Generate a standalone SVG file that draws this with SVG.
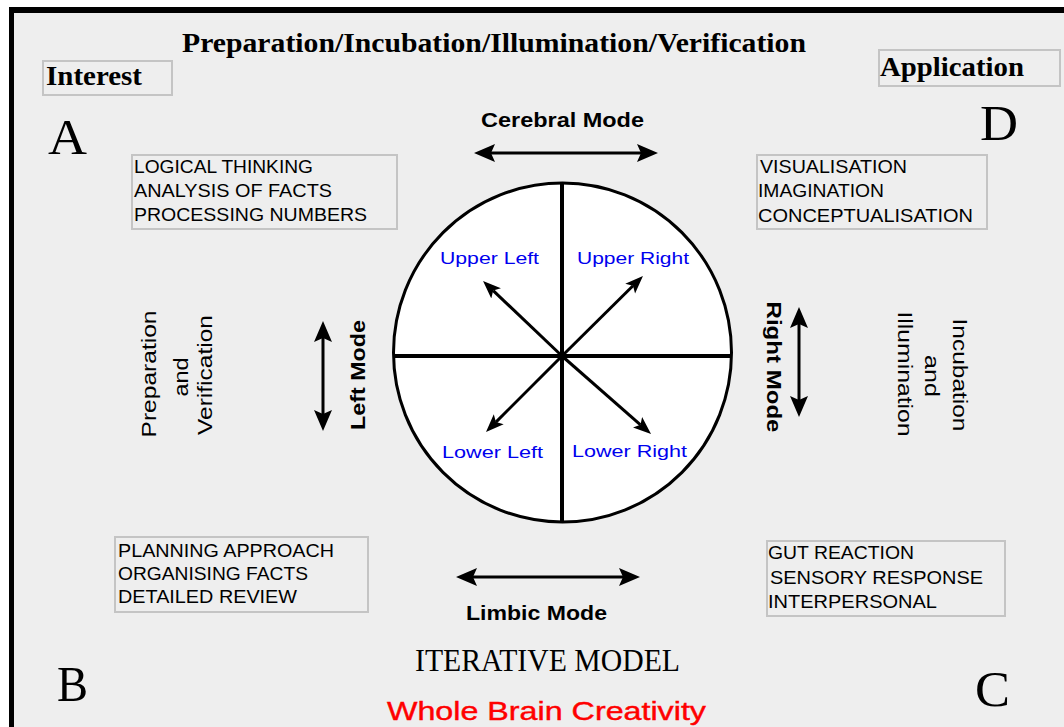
<svg xmlns="http://www.w3.org/2000/svg" width="1064" height="727" viewBox="0 0 1064 727">
<style>
.serifb{font-family:"Liberation Serif","Times New Roman",serif;font-weight:bold;fill:#000}
.serif{font-family:"Liberation Serif","Times New Roman",serif;fill:#000}
.box{fill:none;stroke:#c4c4c4;stroke-width:2}
.bt{font-family:"Liberation Sans",Arial,sans-serif;font-size:19px;fill:#000}
.q{font-family:"Liberation Sans",Arial,sans-serif;font-size:17px;fill:#0000ee}
.mode{font-family:"Liberation Sans",Arial,sans-serif;font-size:21px;font-weight:bold;fill:#000}
.rt{font-family:"Liberation Sans",Arial,sans-serif;font-size:21px;fill:#000}
.arr{stroke:#000;stroke-width:3;fill:none}
</style>
<defs>
<marker id="ah" markerUnits="userSpaceOnUse" markerWidth="24" markerHeight="20" refX="4" refY="10" orient="auto-start-reverse"><path d="M0,1 L21,10 L0,19 L4,10 Z" fill="#000"/></marker>
<marker id="ahs" markerUnits="userSpaceOnUse" markerWidth="20" markerHeight="16" refX="4" refY="8" orient="auto-start-reverse"><path d="M0,1 L18,8 L0,15 L4,8 Z" fill="#000"/></marker>
</defs>
<rect x="0" y="0" width="1064" height="727" fill="#ffffff"/>
<rect x="9" y="7" width="1055" height="720" fill="#eeeeee"/>
<rect x="9" y="7" width="1055" height="6" fill="#000"/>
<rect x="9" y="7" width="5" height="720" fill="#000"/>

<g id="title"><text class="serifb" x="182" y="52" font-size="27" textLength="624" lengthAdjust="spacingAndGlyphs">Preparation/Incubation/Illumination/Verification</text></g>

<g id="interest"><rect class="box" x="43" y="61" width="129" height="34"/><text class="serifb" x="46" y="85" font-size="28" textLength="96" lengthAdjust="spacingAndGlyphs">Interest</text></g>
<g id="application"><rect class="box" x="879" y="50" width="181" height="36"/><text class="serifb" x="880" y="76" font-size="28" textLength="144" lengthAdjust="spacingAndGlyphs">Application</text></g>

<g id="letters">
<text class="serif" x="48" y="154" font-size="50" textLength="39" lengthAdjust="spacingAndGlyphs">A</text>
<text class="serif" x="980" y="140" font-size="50" textLength="38" lengthAdjust="spacingAndGlyphs">D</text>
<text class="serif" x="57" y="701" font-size="50" textLength="31" lengthAdjust="spacingAndGlyphs">B</text>
<text class="serif" x="975" y="706" font-size="50" textLength="35" lengthAdjust="spacingAndGlyphs">C</text>
</g>

<g id="boxA"><rect class="box" x="132" y="155" width="265" height="74"/>
<text class="bt" x="134" y="173" textLength="179" lengthAdjust="spacingAndGlyphs">LOGICAL THINKING</text>
<text class="bt" x="134" y="197" textLength="198" lengthAdjust="spacingAndGlyphs">ANALYSIS OF FACTS</text>
<text class="bt" x="134" y="221" textLength="233" lengthAdjust="spacingAndGlyphs">PROCESSING NUMBERS</text></g>

<g id="boxD"><rect class="box" x="757" y="155" width="230" height="74"/>
<text class="bt" x="760" y="173" textLength="147" lengthAdjust="spacingAndGlyphs">VISUALISATION</text>
<text class="bt" x="758" y="197" textLength="126" lengthAdjust="spacingAndGlyphs">IMAGINATION</text>
<text class="bt" x="758" y="222" textLength="215" lengthAdjust="spacingAndGlyphs">CONCEPTUALISATION</text></g>

<g id="boxB"><rect class="box" x="115" y="537" width="253" height="75"/>
<text class="bt" x="118" y="557" textLength="216" lengthAdjust="spacingAndGlyphs">PLANNING APPROACH</text>
<text class="bt" x="118" y="580" textLength="190" lengthAdjust="spacingAndGlyphs">ORGANISING FACTS</text>
<text class="bt" x="118" y="603" textLength="179" lengthAdjust="spacingAndGlyphs">DETAILED REVIEW</text></g>

<g id="boxC"><rect class="box" x="767" y="541" width="238" height="75"/>
<text class="bt" x="768" y="559" textLength="146" lengthAdjust="spacingAndGlyphs">GUT REACTION</text>
<text class="bt" x="770" y="584" textLength="213" lengthAdjust="spacingAndGlyphs">SENSORY RESPONSE</text>
<text class="bt" x="768" y="608" textLength="169" lengthAdjust="spacingAndGlyphs">INTERPERSONAL</text></g>

<g id="brain">
<ellipse cx="562.5" cy="352.5" rx="169" ry="169.5" fill="#ffffff" stroke="#000" stroke-width="3"/>
<line x1="562" y1="183" x2="562" y2="522" stroke="#000" stroke-width="4"/>
<line x1="393" y1="356" x2="732" y2="356" stroke="#000" stroke-width="4"/>
<text class="q" x="440" y="264" textLength="99" lengthAdjust="spacingAndGlyphs">Upper Left</text>
<text class="q" x="577" y="264" textLength="112" lengthAdjust="spacingAndGlyphs">Upper Right</text>
<text class="q" x="442" y="458" textLength="101" lengthAdjust="spacingAndGlyphs">Lower Left</text>
<text class="q" x="572" y="457" textLength="115" lengthAdjust="spacingAndGlyphs">Lower Right</text>
</g>

<g id="modes">
<text class="mode" x="481" y="127" textLength="163" lengthAdjust="spacingAndGlyphs">Cerebral Mode</text>
<text class="mode" x="466" y="620" textLength="141" lengthAdjust="spacingAndGlyphs">Limbic Mode</text>
<text class="mode" transform="translate(365,375) rotate(-90)" text-anchor="middle" textLength="110" lengthAdjust="spacingAndGlyphs">Left Mode</text>
<text class="mode" transform="translate(767,367) rotate(90)" text-anchor="middle" textLength="131" lengthAdjust="spacingAndGlyphs">Right  Mode</text>
</g>

<g id="phases-left">
<text class="rt" transform="translate(156,374) rotate(-90)" text-anchor="middle" textLength="127" lengthAdjust="spacingAndGlyphs">Preparation</text>
<text class="rt" transform="translate(188,377) rotate(-90)" text-anchor="middle" textLength="39" lengthAdjust="spacingAndGlyphs">and</text>
<text class="rt" transform="translate(212,375) rotate(-90)" text-anchor="middle" textLength="120" lengthAdjust="spacingAndGlyphs">Verification</text>
</g>
<g id="phases-right">
<text class="rt" transform="translate(953,375) rotate(90)" text-anchor="middle" textLength="113" lengthAdjust="spacingAndGlyphs">Incubation</text>
<text class="rt" transform="translate(925,376) rotate(90)" text-anchor="middle" textLength="42" lengthAdjust="spacingAndGlyphs">and</text>
<text class="rt" transform="translate(898,374) rotate(90)" text-anchor="middle" textLength="125" lengthAdjust="spacingAndGlyphs">Illumination</text>
</g>

<g id="bottom">
<text class="serif" x="415" y="671" font-size="32" textLength="265" lengthAdjust="spacingAndGlyphs">ITERATIVE MODEL</text>
<text x="387" y="720" font-family="Liberation Sans,Arial,sans-serif" font-size="25" fill="#ff0000" stroke="#ff0000" stroke-width="0.4" textLength="319" lengthAdjust="spacingAndGlyphs">Whole Brain Creativity</text>
</g>

<g id="connectors">
<line class="arr" x1="491" y1="153" x2="641" y2="153" marker-start="url(#ah)" marker-end="url(#ah)"/>
<line class="arr" x1="473" y1="577" x2="623" y2="577" marker-start="url(#ah)" marker-end="url(#ah)"/>
<line class="arr" x1="323" y1="338" x2="323" y2="414" marker-start="url(#ah)" marker-end="url(#ah)"/>
<line class="arr" x1="799" y1="324" x2="799" y2="400" marker-start="url(#ah)" marker-end="url(#ah)"/>
<line class="arr" x1="562" y1="356" x2="493.2" y2="290.6" marker-end="url(#ahs)"/>
<line class="arr" x1="562" y1="356" x2="633" y2="285.8" marker-end="url(#ahs)"/>
<line class="arr" x1="562" y1="356" x2="495.9" y2="422.1" marker-end="url(#ahs)"/>
<line class="arr" x1="562" y1="356" x2="640.5" y2="424.8" marker-end="url(#ahs)"/>
</g>
</svg>
